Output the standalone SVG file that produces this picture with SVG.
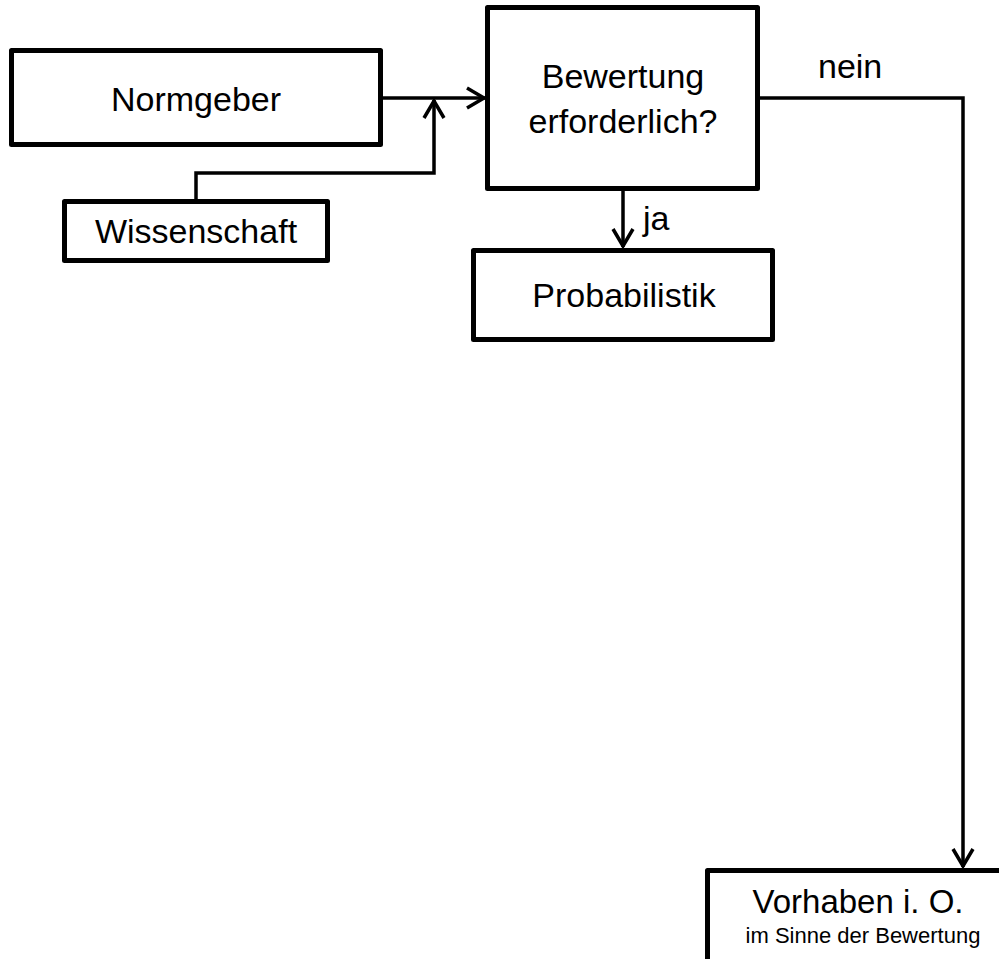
<svg xmlns="http://www.w3.org/2000/svg" width="999" height="959" viewBox="0 0 999 959">
  <style>
    .box { fill: #ffffff; stroke: #000000; stroke-width: 5; stroke-linejoin: round; }
    .conn { fill: none; stroke: #000000; stroke-width: 3.5; }
    .t { font-family: "Liberation Sans", Arial, sans-serif; font-size: 34px; fill: #000000; text-anchor: middle; }
    .lbl { font-family: "Liberation Sans", Arial, sans-serif; font-size: 34px; fill: #000000; }
  </style>
  <defs>
    <marker id="arr" markerUnits="userSpaceOnUse" markerWidth="24" markerHeight="26" viewBox="0 -13 24 26" refX="19" refY="0" orient="auto">
      <path d="M1,-10 L18,0 L1,10" fill="none" stroke="#000000" stroke-width="3.5" stroke-linejoin="miter"/>
    </marker>
  </defs>
  <rect width="999" height="959" fill="#ffffff"/>

  <g id="connectors">
    <path class="conn" d="M383,98 H485" marker-end="url(#arr)"/>
    <path class="conn" d="M196,199 V173 H434 V100" marker-end="url(#arr)"/>
    <path class="conn" d="M623,190 V247" marker-end="url(#arr)"/>
    <path class="conn" d="M760,98 H963 V867" marker-end="url(#arr)"/>
    <text class="lbl" x="643" y="230">ja</text>
    <text class="lbl" x="818" y="78">nein</text>
  </g>

  <g id="normgeber">
    <rect class="box" x="11.5" y="50.5" width="369" height="94"/>
    <text class="t" x="196" y="111">Normgeber</text>
  </g>

  <g id="wissenschaft">
    <rect class="box" x="64.5" y="201.5" width="263" height="59"/>
    <text class="t" x="196" y="243">Wissenschaft</text>
  </g>

  <g id="bewertung">
    <rect class="box" x="487.5" y="7.5" width="270" height="181"/>
    <text class="t" x="623" y="88">Bewertung</text>
    <text class="t" x="623" y="133">erforderlich?</text>
  </g>

  <g id="probabilistik">
    <rect class="box" x="473.5" y="250.5" width="299" height="89"/>
    <text class="t" x="624" y="307">Probabilistik</text>
  </g>

  <g id="vorhaben">
    <rect class="box" x="707.5" y="870.5" width="320" height="120"/>
    <text class="t" x="858" y="913" style="font-size:33px">Vorhaben i. O.</text>
    <text class="t" x="863" y="943" style="font-size:22px">im Sinne der Bewertung</text>
  </g>
</svg>
